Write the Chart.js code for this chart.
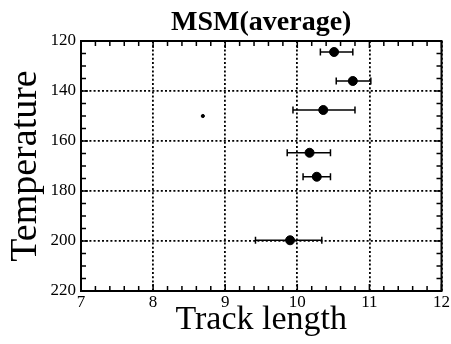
<!DOCTYPE html>
<html>
<head>
<meta charset="utf-8">
<script src="https://cdn.jsdelivr.net/npm/chart.js@4.4.1/dist/chart.umd.min.js"></script>
<style>
  html, body { margin: 0; padding: 0; background: #fff; }
  #wrap { width: 451px; height: 344px; }
</style>
</head>
<body>
<div id="wrap"><canvas id="chart" width="451" height="344"></canvas></div>
<script>
// data
const trackLength = [10.51, 10.77, 10.36, 10.17, 10.27, 9.90];
const temperature = [124.4, 136.0, 147.6, 164.7, 174.3, 199.7];
const errLow      = [10.32, 10.54, 9.94, 9.86, 10.08, 9.42];
const errHigh     = [10.77, 11.02, 10.80, 10.46, 10.46, 10.34];
const strayLength = [8.69];
const strayTemp   = [150];
const xTicks = [7, 8, 9, 10, 11, 12];
const yTicks = [120, 140, 160, 180, 200, 220];

const serif = '"Liberation Serif", "Times New Roman", serif';

// horizontal error bars
const errorBars = {
    id: 'errorBars',
    afterDatasetsDraw(chart) {
        const { ctx, scales: { x, y } } = chart;
        ctx.save();
        ctx.strokeStyle = '#000';
        ctx.lineWidth = 1.5;
        trackLength.forEach((v, i) => {
            const py = y.getPixelForValue(temperature[i]);
            const x0 = x.getPixelForValue(errLow[i]);
            const x1 = x.getPixelForValue(errHigh[i]);
            ctx.beginPath();
            ctx.moveTo(x0, py); ctx.lineTo(x1, py);
            ctx.moveTo(x0, py - 3.5); ctx.lineTo(x0, py + 3.5);
            ctx.moveTo(x1, py - 3.5); ctx.lineTo(x1, py + 3.5);
            ctx.stroke();
        });
        ctx.restore();
    }
};

// closed frame with inward ticks on all four sides
const frame = {
    id: 'frame',
    afterDraw(chart) {
        const { ctx, chartArea: a, scales: { x, y } } = chart;
        ctx.save();
        ctx.strokeStyle = '#000';
        ctx.lineWidth = 2;
        ctx.strokeRect(a.left, a.top, a.right - a.left, a.bottom - a.top);
        ctx.lineWidth = 1.5;
        ctx.beginPath();
        for (let v = 7; v <= 12.001; v += 0.2) {
            const px = x.getPixelForValue(v);
            const len = Math.abs(v - Math.round(v)) < 0.01 ? 7 : 5;
            ctx.moveTo(px, a.top); ctx.lineTo(px, a.top + len);
            ctx.moveTo(px, a.bottom); ctx.lineTo(px, a.bottom - len);
        }
        for (let v = 120; v <= 220; v += 5) {
            const py = y.getPixelForValue(v);
            const len = v % 20 === 0 ? 7 : 5;
            ctx.moveTo(a.left, py); ctx.lineTo(a.left + len, py);
            ctx.moveTo(a.right, py); ctx.lineTo(a.right - len, py);
        }
        ctx.stroke();
        ctx.restore();
    }
};

new Chart(document.getElementById('chart'), {
    type: 'scatter',
    data: {
        datasets: [
            {
                label: 'MSM',
                data: trackLength.map((v, i) => ({ x: v, y: temperature[i] })),
                backgroundColor: '#000',
                borderColor: '#000',
                pointRadius: 4.5
            },
            {
                label: 'stray',
                data: strayLength.map((v, i) => ({ x: v, y: strayTemp[i] })),
                backgroundColor: '#000',
                borderColor: '#000',
                pointRadius: 1.6
            }
        ]
    },
    options: {
        responsive: false,
        animation: false,
        layout: { padding: { left: 0, right: 8, top: 0, bottom: 0 } },
        plugins: {
            legend: { display: false },
            tooltip: { enabled: false },
            title: {
                display: true,
                text: 'MSM(average)',
                fullSize: false,
                color: '#000',
                font: { family: serif, size: 28, weight: 'bold' },
                padding: { top: 6, bottom: 1.4 }
            }
        },
        scales: {
            x: {
                type: 'linear',
                min: 7, max: 12,
                afterBuildTicks: s => { s.ticks = xTicks.map(v => ({ value: v })); },
                afterFit: s => { s.height = 53; },
                ticks: { color: '#000', font: { family: serif, size: 17 }, padding: 1, maxRotation: 0 },
                grid: { color: '#000', lineWidth: 1.8, drawTicks: false },
                border: { display: false, dash: [2, 2.2] },
                title: {
                    display: true,
                    text: 'Track length',
                    color: '#000',
                    font: { family: serif, size: 34 },
                    padding: { top: 0, bottom: 3.6 }
                }
            },
            y: {
                type: 'linear',
                min: 120, max: 220,
                reverse: true,
                afterBuildTicks: s => { s.ticks = yTicks.map(v => ({ value: v })); },
                afterFit: s => { s.width = 81; },
                ticks: { color: '#000', font: { family: serif, size: 17 }, padding: 5 },
                grid: { color: '#000', lineWidth: 1.8, drawTicks: false },
                border: { display: false, dash: [2, 2.2] },
                title: {
                    display: true,
                    text: 'Temperature',
                    color: '#000',
                    font: { family: serif, size: 38 },
                    padding: { top: 3, bottom: 0 }
                }
            }
        }
    },
    plugins: [errorBars, frame]
});
</script>
</body>
</html>
